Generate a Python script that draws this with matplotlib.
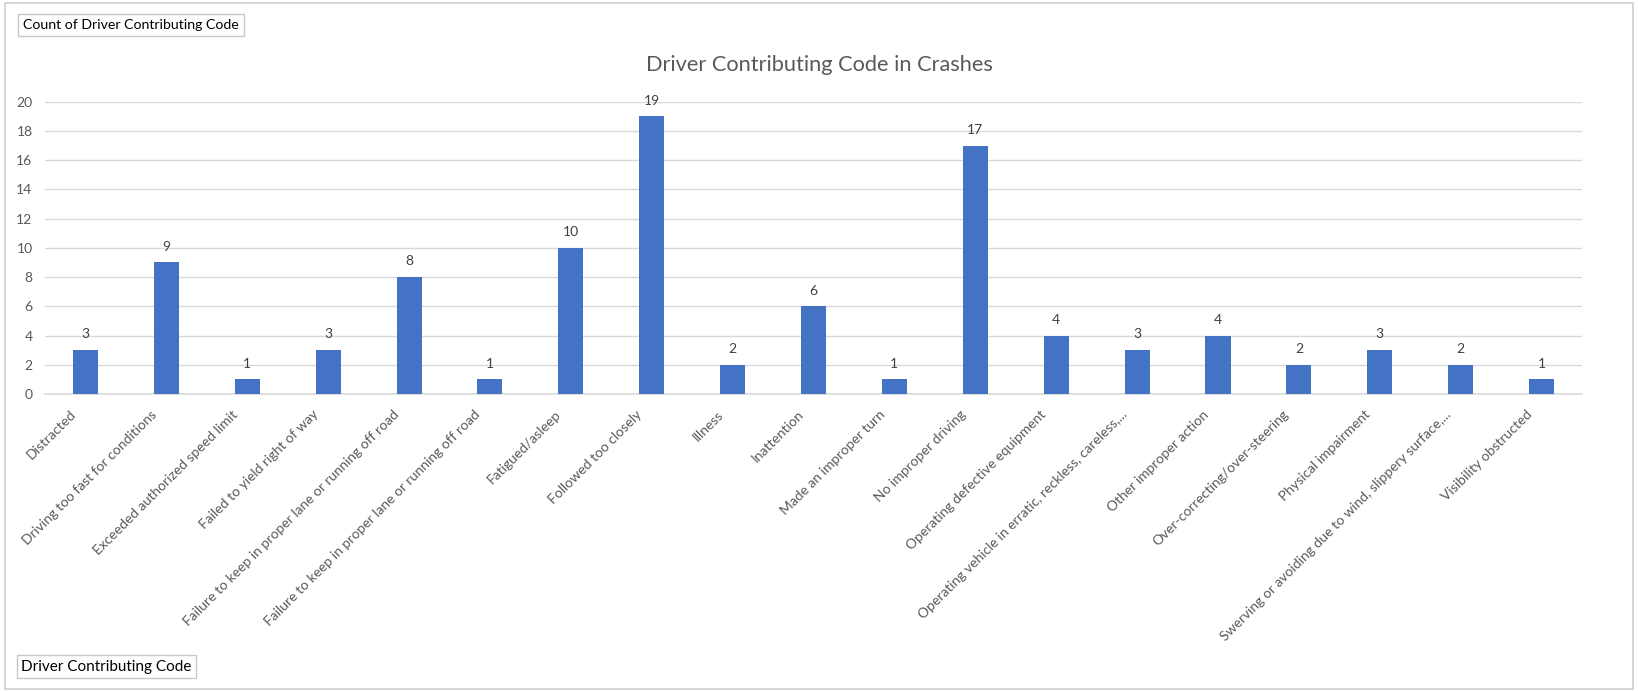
import matplotlib
matplotlib.use("Agg")
import matplotlib.pyplot as plt
from matplotlib.patches import Rectangle
from matplotlib.transforms import ScaledTranslation

plt.rcParams['font.family'] = ['Lato', 'DejaVu Sans']

categories = [
    "Distracted",
    "Driving too fast for conditions",
    "Exceeded authorized speed limit",
    "Failed to yield right of way",
    "Failure to keep in proper lane or running off road",
    "Failure to keep in proper lane or running off road",
    "Fatigued/asleep",
    "Followed too closely",
    "Illness",
    "Inattention",
    "Made an improper turn",
    "No improper driving",
    "Operating defective equipment",
    "Operating vehicle in erratic, reckless, careless,...",
    "Other improper action",
    "Over-correcting/over-steering",
    "Physical impairment",
    "Swerving or avoiding due to wind, slippery surface,...",
    "Visibility obstructed",
]
counts = [3, 9, 1, 3, 8, 1, 10, 19, 2, 6, 1, 17, 4, 3, 4, 2, 3, 2, 1]
y_ticks = [0, 2, 4, 6, 8, 10, 12, 14, 16, 18, 20]

bar_color = "#4472C4"
text_color = "#595959"
grid_color = "#D9D9D9"

fig = plt.figure(figsize=(16.38, 6.91), dpi=100)
fig.patches.append(Rectangle((0.003, 0.003), 0.994, 0.993, transform=fig.transFigure,
                             fill=False, edgecolor="#D0D0D0", linewidth=1.2))

ax = fig.add_axes([0.0275, 0.4298, 0.9383, 0.423])
x = list(range(len(categories)))
bars = ax.bar(x, counts, width=0.31, color=bar_color, zorder=3)

ax.set_xlim(-0.5, len(categories) - 0.5)
ax.set_ylim(0, 20)
ax.set_yticks(y_ticks)
ax.set_yticklabels([str(v) for v in y_ticks], fontsize=10, color=text_color)
ax.yaxis.grid(True, color=grid_color, linewidth=1, zorder=0)
ax.tick_params(axis='y', length=0, pad=9)
ax.tick_params(axis='x', length=0, pad=6)

ax.set_xticks(x)
labels = ax.set_xticklabels(categories, rotation=45, ha='right', rotation_mode='anchor',
                            fontsize=10, color=text_color)
# nudge the slanted labels left/down like Excel does
shift = ScaledTranslation(-16 / 100, -6 / 100, fig.dpi_scale_trans)
for lab in labels:
    lab.set_transform(lab.get_transform() + shift)

for s in ['top', 'right', 'left']:
    ax.spines[s].set_visible(False)
ax.spines['bottom'].set_color(grid_color)
ax.spines['bottom'].set_linewidth(1.2)

for xi, v in zip(x, counts):
    ax.annotate(str(v), (xi, v), xytext=(0, 7), textcoords='offset points',
                ha='center', va='bottom', fontsize=10, color="#404040", clip_on=False)

fig.text(0.5, 0.906, "Driver Contributing Code in Crashes", ha='center', va='center',
         fontsize=15.7, color=text_color)

fig.text(0.014, 0.964, "Count of Driver Contributing Code", ha='left', va='center',
         fontsize=10.2, color="black",
         bbox=dict(boxstyle='square,pad=0.35', facecolor='white', edgecolor='#C8C8C8', linewidth=1))
fig.text(0.013, 0.035, "Driver Contributing Code", ha='left', va='center',
         fontsize=11, color="black",
         bbox=dict(boxstyle='square,pad=0.3', facecolor='white', edgecolor='#C8C8C8', linewidth=1))

fig.savefig("out.png", dpi=100)
